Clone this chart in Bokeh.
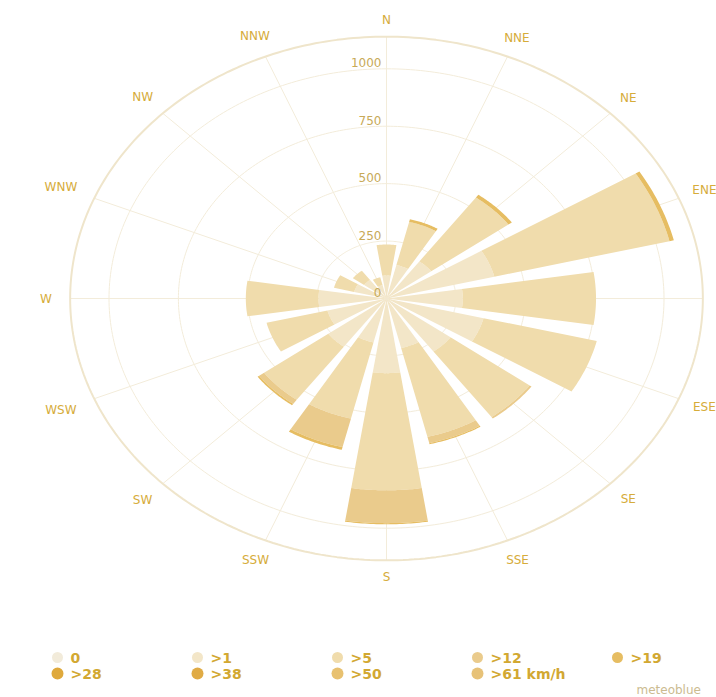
import numpy as np
from bokeh.plotting import figure
from bokeh.models import Range1d, ColumnDataSource
from bokeh.embed import file_html
from bokeh.resources import INLINE
from bokeh.core.properties import value

# ---------------- data ----------------
DIRECTIONS = ["N", "NNE", "NE", "ENE", "E", "ESE", "SE", "SSE",
              "S", "SSW", "SW", "WSW", "W", "WNW", "NW", "NNW"]
SPEED_LABELS = ["0", ">1", ">5", ">12", ">19", ">28", ">38", ">50", ">61 km/h"]

# hours per direction for each wind-speed class (stacked outward)
FREQ_0 = [0, 0, 0, 0, 0, 0, 0, 0, 0, 0, 0, 0, 0, 0, 0, 0]
FREQ_1 = [100, 150, 200, 400, 275, 360, 286, 222, 325, 197, 260, 219, 245, 120, 100, 60]
FREQ_5 = [135, 193, 345, 650, 480, 420, 354, 398, 510, 341, 287, 226, 262, 75, 50, 35]
FREQ_12 = [0, 0, 0, 0, 0, 0, 8, 28, 143, 128, 22, 0, 0, 0, 0, 0]
FREQ_19 = [0, 12, 15, 16, 0, 0, 0, 5, 5, 12, 7, 0, 0, 0, 0, 0]
FREQ_28 = [0, 0, 0, 0, 0, 0, 0, 0, 0, 0, 0, 0, 0, 0, 0, 0]
FREQ_38 = [0, 0, 0, 0, 0, 0, 0, 0, 0, 0, 0, 0, 0, 0, 0, 0]
FREQ_50 = [0, 0, 0, 0, 0, 0, 0, 0, 0, 0, 0, 0, 0, 0, 0, 0]
FREQ_61 = [0, 0, 0, 0, 0, 0, 0, 0, 0, 0, 0, 0, 0, 0, 0, 0]

RADIAL_TICKS = [0, 250, 500, 750, 1000]

# ---------------- style / layout ----------------
SPEED_COLORS = ["#f2ebda", "#f3e6c8", "#f0dcac", "#eacb8c", "#e6bd62",
                "#dfa93c", "#e0ab45", "#e8c170", "#e7c278"]
GRID_COLOR = "#f3ecda"
RING_COLOR = "#efe5cb"
DIR_COLOR = "#d6ac3a"
TICK_COLOR = "#c8aa58"
LEG_COLOR = "#d2a832"

PANE_MAX = 1140
BAR_WIDTH_DEG = 17.5
LABEL_R = [1213, 1228, 1232, 1240, 1240, 1240, 1232, 1234,
           1213, 1234, 1243, 1270, 1227, 1270, 1243, 1239]

W, H = 716, 697
SX, SY = 0.2775, 0.2297      # pixels per unit, horizontally / vertically
CXP, CYP = 386, 298          # pole position on the canvas

p = figure(width=W, height=H,
           x_range=Range1d(-CXP / SX, (W - CXP) / SX),
           y_range=Range1d(-(H - CYP) / SY, CYP / SY),
           x_axis_type=None, y_axis_type=None,
           output_backend="svg", toolbar_location=None, min_border=0)
p.grid.visible = False
p.outline_line_color = None
p.background_fill_color = "white"
p.border_fill_color = "white"

FONT = value("DejaVu Sans")

# ---------------- grid ----------------
tt = np.linspace(0, 2 * np.pi, 361)
ring_xs = [list(r * np.sin(tt)) for r in RADIAL_TICKS[1:]]
ring_ys = [list(r * np.cos(tt)) for r in RADIAL_TICKS[1:]]
p.multi_line(ring_xs, ring_ys, line_color=GRID_COLOR, line_width=1)

ang = np.radians(22.5 * np.arange(len(DIRECTIONS)))
p.segment(x0=0, y0=0, x1=PANE_MAX * np.sin(ang), y1=PANE_MAX * np.cos(ang),
          line_color=GRID_COLOR, line_width=1)
p.line(PANE_MAX * np.sin(tt), PANE_MAX * np.cos(tt), line_color=RING_COLOR, line_width=2)

# ---------------- stacked bars ----------------
series = [FREQ_0, FREQ_1, FREQ_5, FREQ_12, FREQ_19, FREQ_28, FREQ_38, FREQ_50, FREQ_61]
half = np.radians(BAR_WIDTH_DEG / 2)
xs, ys, cols = [], [], []
for i in range(len(DIRECTIONS)):
    th = ang[i]
    t = np.linspace(th - half, th + half, 30)
    base = 0.0
    for k, s in enumerate(series):
        v = s[i]
        if v <= 0:
            continue
        r0, r1 = base, base + v
        xs.append(list(np.concatenate([r1 * np.sin(t), r0 * np.sin(t[::-1])])))
        ys.append(list(np.concatenate([r1 * np.cos(t), r0 * np.cos(t[::-1])])))
        cols.append(SPEED_COLORS[k])
        base = r1
p.patches(xs="xs", ys="ys", fill_color="c", line_color=None,
          source=ColumnDataSource(dict(xs=xs, ys=ys, c=cols)))

# ---------------- radial tick labels ----------------
p.text(x=[-5 / SX] * len(RADIAL_TICKS), y=[r + 6 / SY for r in RADIAL_TICKS],
       text=[str(r) for r in RADIAL_TICKS], text_align="right", text_baseline="middle",
       text_font=FONT, text_font_size="12px", text_color=TICK_COLOR)

# ---------------- direction labels ----------------
lr = np.array(LABEL_R)
p.text(x=lr * np.sin(ang), y=lr * np.cos(ang), text=DIRECTIONS,
       text_align="center", text_baseline="middle",
       text_font=FONT, text_font_size="12px", text_color=DIR_COLOR)

# ---------------- legend ----------------
def dx(xp):
    return (xp - CXP) / SX


def dy(yp):
    return (CYP - yp) / SY


LEG_COLS = [57, 197, 337, 477, 617]
LEG_ROWS = [657, 673]
lx, ly, lt, lc, ls, tx = [], [], [], [], [], []
for n, lab in enumerate(SPEED_LABELS):
    row, col = divmod(n, 5)
    lx.append(dx(LEG_COLS[col]))
    ly.append(dy(LEG_ROWS[row]))
    tx.append(dx(LEG_COLS[col] + 13))
    lt.append(lab)
    lc.append(SPEED_COLORS[n])
    ls.append(11 if row == 0 else 12)
p.scatter(x=lx, y=ly, size=ls, fill_color=lc, line_color=None, marker="circle")
p.text(x=tx, y=ly, text=lt, text_align="left", text_baseline="middle",
       text_font=FONT, text_font_size="14px", text_font_style="bold", text_color=LEG_COLOR)

p.text(x=[dx(636)], y=[dy(689)], text=["meteoblue"], text_align="left",
       text_baseline="middle", text_font=FONT, text_font_size="12px", text_color="#cbbb90")

open("out.html", "w").write(file_html(p, INLINE))
